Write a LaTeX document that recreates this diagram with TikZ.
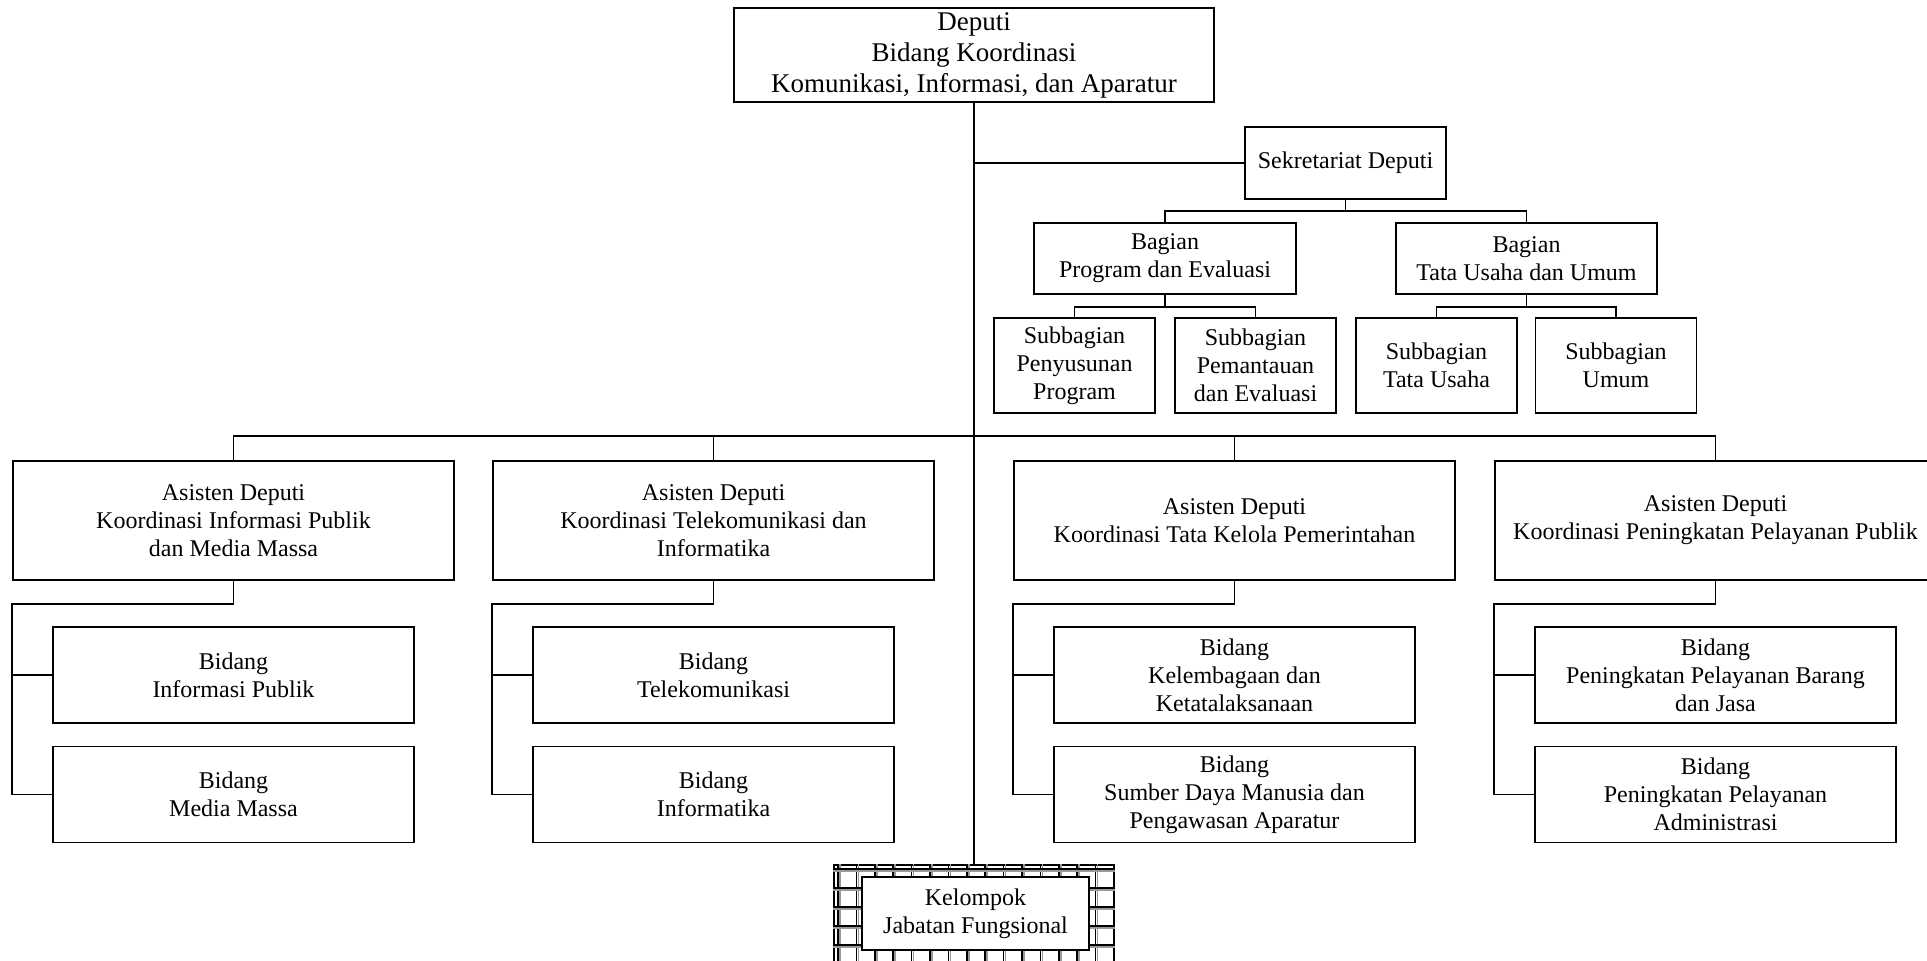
\documentclass[tikz,border=0pt]{standalone}
\usepackage{fontspec}
\setmainfont{Liberation Serif}
\usepackage{tikz}

\begin{document}
\begin{tikzpicture}[x=0.5pt,y=-0.5pt,line width=0.8pt,
  box/.style={draw,align=center,inner sep=0pt,fill=white,font=\fontsize{12}{14}\selectfont},
  subbox/.style={box,minimum width=80.5pt,minimum height=47.5pt},
  asbox/.style={box,minimum width=220.5pt,minimum height=59.5pt},
  bidbox/.style={box,minimum width=180.5pt,minimum height=48pt}]
\useasboundingbox (0,0) rectangle (1927,960);

\draw (974,55) node[box,minimum width=240pt,minimum height=47pt,font=\fontsize{13.5}{15.5}\selectfont] (Deputi) {Deputi\\Bidang Koordinasi\\Komunikasi, Informasi, dan Aparatur};
	\draw (1345.5,163) node[box,minimum width=100.5pt,minimum height=36pt] (Sekre) {Sekretariat Deputi};
		\draw (1165,258.5) node[box,minimum width=131pt,minimum height=35.5pt] (BagPE) {Bagian\\Program dan Evaluasi};
			\draw (1074.5,365.5) node[subbox] (SubPP) {Subbagian\\Penyusunan\\Program};
			\draw (1255.5,365.5) node[subbox] (SubPE) {Subbagian\\Pemantauan\\dan Evaluasi};
		\draw (1526.5,258.5) node[box,minimum width=130.5pt,minimum height=35.5pt] (BagTU) {Bagian\\Tata Usaha dan Umum};
			\draw (1436.5,365.5) node[subbox] (SubTU) {Subbagian\\Tata Usaha};
			\draw (1616,365.5) node[subbox] (SubUm) {Subbagian\\Umum};
	\draw (233.5,520.5) node[asbox] (AsIP) {Asisten Deputi\\Koordinasi Informasi Publik\\dan Media Massa};
		\draw (233.5,675) node[bidbox] (BidIP) {Bidang\\Informasi Publik};
		\draw (233.5,794.5) node[bidbox] (BidMM) {Bidang\\Media Massa};
	\draw (713.5,520.5) node[asbox] (AsTI) {Asisten Deputi\\Koordinasi Telekomunikasi dan\\Informatika};
		\draw (713.5,675) node[bidbox] (BidTel) {Bidang\\Telekomunikasi};
		\draw (713.5,794.5) node[bidbox] (BidInf) {Bidang\\Informatika};
	\draw (1234.5,520.5) node[asbox] (AsTK) {Asisten Deputi\\Koordinasi Tata Kelola Pemerintahan};
		\draw (1234.5,675) node[bidbox] (BidKK) {Bidang\\Kelembagaan dan\\Ketatalaksanaan};
		\draw (1234.5,794.5) node[bidbox] (BidSDM) {Bidang\\Sumber Daya Manusia dan\\Pengawasan Aparatur};
	\draw (1715.5,520.5) node[asbox] (AsPP) {Asisten Deputi\\Koordinasi Peningkatan Pelayanan Publik};
		\draw (1715.5,675) node[bidbox] (BidBJ) {Bidang\\Peningkatan Pelayanan Barang\\dan Jasa};
		\draw (1715.5,794.5) node[bidbox] (BidAdm) {Bidang\\Peningkatan Pelayanan\\Administrasi};
	\draw (974,915) node[draw,minimum width=140pt,minimum height=50pt] (KelOuter) {};

% grid fill round the last box
\begin{scope}
	\clip (KelOuter.north west) rectangle (KelOuter.south east);
	\foreach \gx in {0,...,15} {
		\draw[black!40] (840+18.4*\gx,850) -- ++(0,130);
		\draw (838+18.4*\gx,850) -- ++(0,130);
	}
	\foreach \gy in {0,...,5} {
		\draw[black!40] (820,871+19*\gy) -- ++(320,0);
		\draw (820,869+19*\gy) -- ++(320,0);
	}
\end{scope}
\draw (975.5,913.5) node[box,minimum width=113.5pt,minimum height=36.5pt] (Kelompok) {Kelompok\\Jabatan Fungsional};

\draw (Deputi.south) -- (KelOuter.north);
\draw (Deputi.south |- Sekre.west) -- (Sekre.west);
\draw (Sekre.south) -- ++(0,11) -| (BagPE.north);
\draw (Sekre.south) -- ++(0,11) -| (BagTU.north);
\draw (BagPE.south) -- ++(0,12) -| (SubPP.north);
\draw (BagPE.south) -- ++(0,12) -| (SubPE.north);
\draw (BagTU.south) -- ++(0,12) -| (SubTU.north);
\draw (BagTU.south) -- ++(0,12) -| (SubUm.north);
\draw (AsIP.north) -- ++(0,-24) -| (AsPP.north);
\draw (AsTI.north) -- ++(0,-24);
\draw (AsTK.north) -- ++(0,-24);
\draw (AsIP.south) -- ++(0,23) -| (AsIP.west |- BidMM.west) -- (BidMM.west);
\draw (AsIP.west |- BidIP.west) -- (BidIP.west);
\draw (AsTI.south) -- ++(0,23) -| (AsTI.west |- BidInf.west) -- (BidInf.west);
\draw (AsTI.west |- BidTel.west) -- (BidTel.west);
\draw (AsTK.south) -- ++(0,23) -| (AsTK.west |- BidSDM.west) -- (BidSDM.west);
\draw (AsTK.west |- BidKK.west) -- (BidKK.west);
\draw (AsPP.south) -- ++(0,23) -| (AsPP.west |- BidAdm.west) -- (BidAdm.west);
\draw (AsPP.west |- BidBJ.west) -- (BidBJ.west);
\end{tikzpicture}
\end{document}
